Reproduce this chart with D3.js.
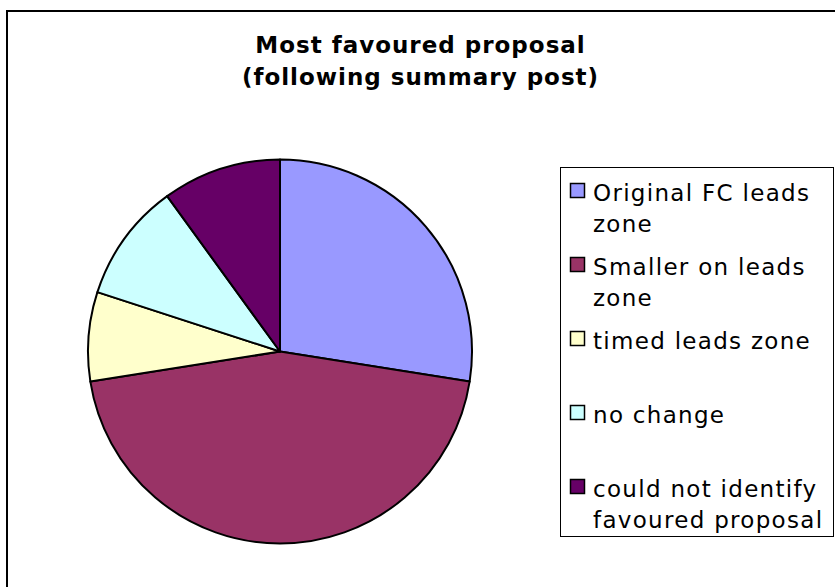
<!DOCTYPE html>
<html>
<head>
<meta charset="utf-8">
<script src="https://cdn.jsdelivr.net/npm/d3@7"></script>
<style>
  body { margin: 0; background: #fff; }
  svg { display: block; }
  text { font-family: "DejaVu Sans", Verdana, sans-serif; fill: #000; }
</style>
</head>
<body>
<svg id="chart"></svg>
<script>
// chart data
var categories = [
    "Original FC leads zone",
    "Smaller on leads zone",
    "timed leads zone",
    "no change",
    "could not identify favoured proposal"
];
var legendLines = [
    ["Original FC leads", "zone"],
    ["Smaller on leads", "zone"],
    ["timed leads zone"],
    ["no change"],
    ["could not identify", "favoured proposal"]
];
var votes = [11, 18, 3, 4, 4];
var sliceColors = ["#9999FF", "#993366", "#FFFFCC", "#CCFFFF", "#660066"];
var titleLines = ["Most favoured proposal", "(following summary post)"];

const chartW = 835,
    chartH = 587,
    pieCx = 280,
    pieCy = 351.5,
    pieR = 192,
    legX = 560.5,
    legY = 167.5,
    legW = 273,
    legH = 369,
    markL = 14;

var svg = d3.select("#chart")
    .attr("width", chartW)
    .attr("height", chartH);

// outer frame (runs off the right/bottom edge)
svg.append("rect")
    .attr("x", 7)
    .attr("y", 11)
    .attr("width", 900)
    .attr("height", 700)
    .attr("fill", "none")
    .attr("stroke", "#000")
    .attr("stroke-width", 2);

// title
svg.append("g")
    .selectAll("text")
    .data(titleLines)
    .enter()
    .append("text")
    .attr("x", 420.5)
    .attr("y", function(d, i) {return 52.5 + i * 32.5;})
    .attr("text-anchor", "middle")
    .style("font-weight", "bold")
    .style("font-size", "23px")
    .style("letter-spacing", "1px")
    .text(function(d) {return d;});

// pie
var pie = d3.pie().sort(null).value(function(d) {return d;});
var arc = d3.arc().innerRadius(0).outerRadius(pieR);

svg.append("g")
    .attr("transform", "translate(" + pieCx + "," + pieCy + ")")
    .selectAll("path")
    .data(pie(votes))
    .enter()
    .append("path")
    .attr("d", arc)
    .attr("fill", function(d, i) {return sliceColors[i];})
    .attr("stroke", "#000")
    .attr("stroke-width", 2)
    .attr("stroke-linejoin", "round");

// legend
var legend = svg.append("g");
legend.append("rect")
    .attr("x", legX)
    .attr("y", legY)
    .attr("width", legW)
    .attr("height", legH)
    .attr("fill", "#fff")
    .attr("stroke", "#000")
    .attr("stroke-width", 1);

var rowY = d3.scaleLinear().domain([0, categories.length]).range([183.5, 183.5 + 74 * categories.length]);

var item = legend.selectAll(".item")
    .data(categories)
    .enter()
    .append("g")
    .attr("class", "item")
    .attr("transform", function(d, i) {return "translate(0," + rowY(i) + ")";});

item.append("rect")
    .attr("x", 570.5)
    .attr("y", 0)
    .attr("width", markL)
    .attr("height", markL)
    .attr("fill", function(d, i) {return sliceColors[i];})
    .attr("stroke", "#000")
    .attr("stroke-width", 1.5);

item.append("text")
    .style("font-size", "23px")
    .style("letter-spacing", "1.3px")
    .selectAll("tspan")
    .data(function(d, i) {return legendLines[i];})
    .enter()
    .append("tspan")
    .attr("x", 593)
    .attr("y", function(d, j) {return 17 + j * 31.5;})
    .text(function(d) {return d;});
</script>
</body>
</html>
